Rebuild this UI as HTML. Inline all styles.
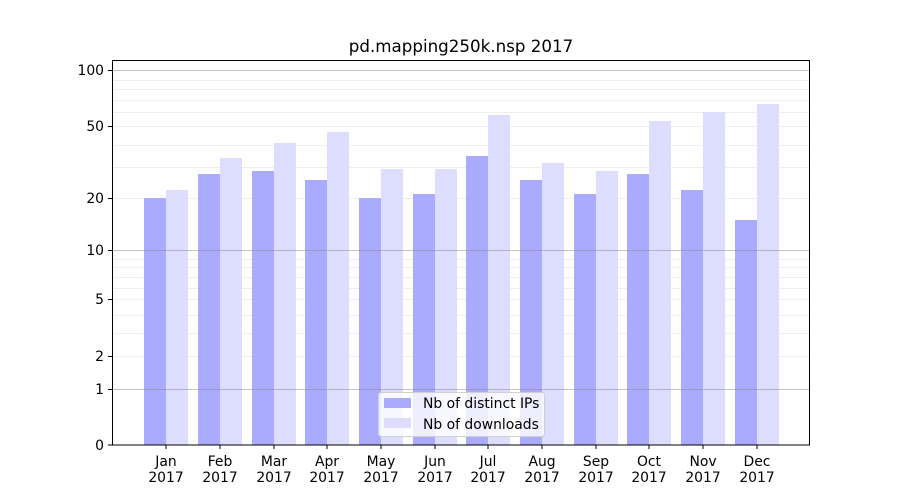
<!DOCTYPE html>
<html><head><style>body{margin:0;background:#fff}svg{display:block}text{font-family:"DejaVu Sans","Liberation Sans",sans-serif;font-size:13.9px;fill:#000}</style></head>
<body>
<svg width="900" height="500" xmlns="http://www.w3.org/2000/svg">
<g stroke="#eeeeee" stroke-width="1">
<line x1="112" x2="810" y1="356.5" y2="356.5"/><line x1="112" x2="810" y1="333.5" y2="333.5"/><line x1="112" x2="810" y1="315.5" y2="315.5"/><line x1="112" x2="810" y1="299.5" y2="299.5"/><line x1="112" x2="810" y1="288.5" y2="288.5"/><line x1="112" x2="810" y1="277.5" y2="277.5"/><line x1="112" x2="810" y1="267.5" y2="267.5"/><line x1="112" x2="810" y1="259.5" y2="259.5"/>
<line x1="112" x2="810" y1="198.5" y2="198.5"/><line x1="112" x2="810" y1="167.5" y2="167.5"/><line x1="112" x2="810" y1="145.5" y2="145.5"/><line x1="112" x2="810" y1="126.5" y2="126.5"/><line x1="112" x2="810" y1="112.5" y2="112.5"/><line x1="112" x2="810" y1="100.5" y2="100.5"/><line x1="112" x2="810" y1="89.5" y2="89.5"/><line x1="112" x2="810" y1="80.5" y2="80.5"/>
</g>
<g fill="#aaaaff">
<rect x="144" y="198" width="22" height="247"/><rect x="198" y="174" width="22" height="271"/><rect x="252" y="171" width="22" height="274"/><rect x="305" y="180" width="22" height="265"/><rect x="359" y="198" width="22" height="247"/><rect x="413" y="194" width="22" height="251"/><rect x="466" y="156" width="22" height="289"/><rect x="520" y="180" width="22" height="265"/><rect x="574" y="194" width="22" height="251"/><rect x="627" y="174" width="22" height="271"/><rect x="681" y="190" width="22" height="255"/><rect x="735" y="220" width="22" height="225"/>
</g>
<g fill="#ddddff">
<rect x="166" y="190" width="22" height="255"/><rect x="220" y="158" width="22" height="287"/><rect x="274" y="143" width="22" height="302"/><rect x="327" y="132" width="22" height="313"/><rect x="381" y="169" width="22" height="276"/><rect x="435" y="169" width="22" height="276"/><rect x="488" y="115" width="22" height="330"/><rect x="542" y="163" width="22" height="282"/><rect x="596" y="171" width="22" height="274"/><rect x="649" y="121" width="22" height="324"/><rect x="703" y="112" width="22" height="333"/><rect x="757" y="104" width="22" height="341"/>
</g>
<g stroke="#888" stroke-opacity="0.5"><line x1="112" x2="810" y1="389.5" y2="389.5"/><line x1="112" x2="810" y1="250.5" y2="250.5"/><line x1="112" x2="810" y1="70.5" y2="70.5"/></g>
<rect x="112.5" y="60.5" width="697" height="384.5" fill="none" stroke="#000"/>
<g stroke="#000">
<line x1="108" x2="112" y1="445" y2="445"/><line x1="108" x2="112" y1="389.5" y2="389.5"/><line x1="108" x2="112" y1="356.5" y2="356.5"/><line x1="108" x2="112" y1="299.5" y2="299.5"/><line x1="108" x2="112" y1="250.5" y2="250.5"/><line x1="108" x2="112" y1="198.5" y2="198.5"/><line x1="108" x2="112" y1="126.5" y2="126.5"/><line x1="108" x2="112" y1="70.5" y2="70.5"/>
<line x1="166" x2="166" y1="445" y2="449"/><line x1="220" x2="220" y1="445" y2="449"/><line x1="274" x2="274" y1="445" y2="449"/><line x1="327" x2="327" y1="445" y2="449"/><line x1="381" x2="381" y1="445" y2="449"/><line x1="435" x2="435" y1="445" y2="449"/><line x1="488" x2="488" y1="445" y2="449"/><line x1="542" x2="542" y1="445" y2="449"/><line x1="596" x2="596" y1="445" y2="449"/><line x1="649" x2="649" y1="445" y2="449"/><line x1="703" x2="703" y1="445" y2="449"/><line x1="757" x2="757" y1="445" y2="449"/>
</g>
<g text-anchor="end">
<text x="104" y="450">0</text><text x="104" y="394">1</text><text x="104" y="361">2</text><text x="104" y="304">5</text><text x="104" y="255">10</text><text x="104" y="203">20</text><text x="104" y="131">50</text><text x="104" y="75">100</text>
</g>
<g text-anchor="middle">
<text x="166" y="466">Jan</text><text x="220" y="466">Feb</text><text x="274" y="466">Mar</text><text x="327" y="466">Apr</text><text x="381" y="466">May</text><text x="435" y="466">Jun</text><text x="488" y="466">Jul</text><text x="542" y="466">Aug</text><text x="596" y="466">Sep</text><text x="649" y="466">Oct</text><text x="703" y="466">Nov</text><text x="757" y="466">Dec</text>
<text x="166" y="482">2017</text><text x="220" y="482">2017</text><text x="274" y="482">2017</text><text x="327" y="482">2017</text><text x="381" y="482">2017</text><text x="435" y="482">2017</text><text x="488" y="482">2017</text><text x="542" y="482">2017</text><text x="596" y="482">2017</text><text x="649" y="482">2017</text><text x="703" y="482">2017</text><text x="757" y="482">2017</text>
<text x="461" y="52" style="font-size:16.7px">pd.mapping250k.nsp 2017</text>
</g>
<rect x="378.5" y="392.5" width="166" height="44" rx="3" fill="#fff" fill-opacity="0.8" stroke="#d0d0d0"/>
<rect x="384" y="398" width="27" height="10" fill="#aaaaff"/>
<rect x="384" y="418" width="27" height="10" fill="#ddddff"/>
<text x="423" y="408">Nb of distinct IPs</text>
<text x="423" y="429">Nb of downloads</text>
</svg>
</body></html>
